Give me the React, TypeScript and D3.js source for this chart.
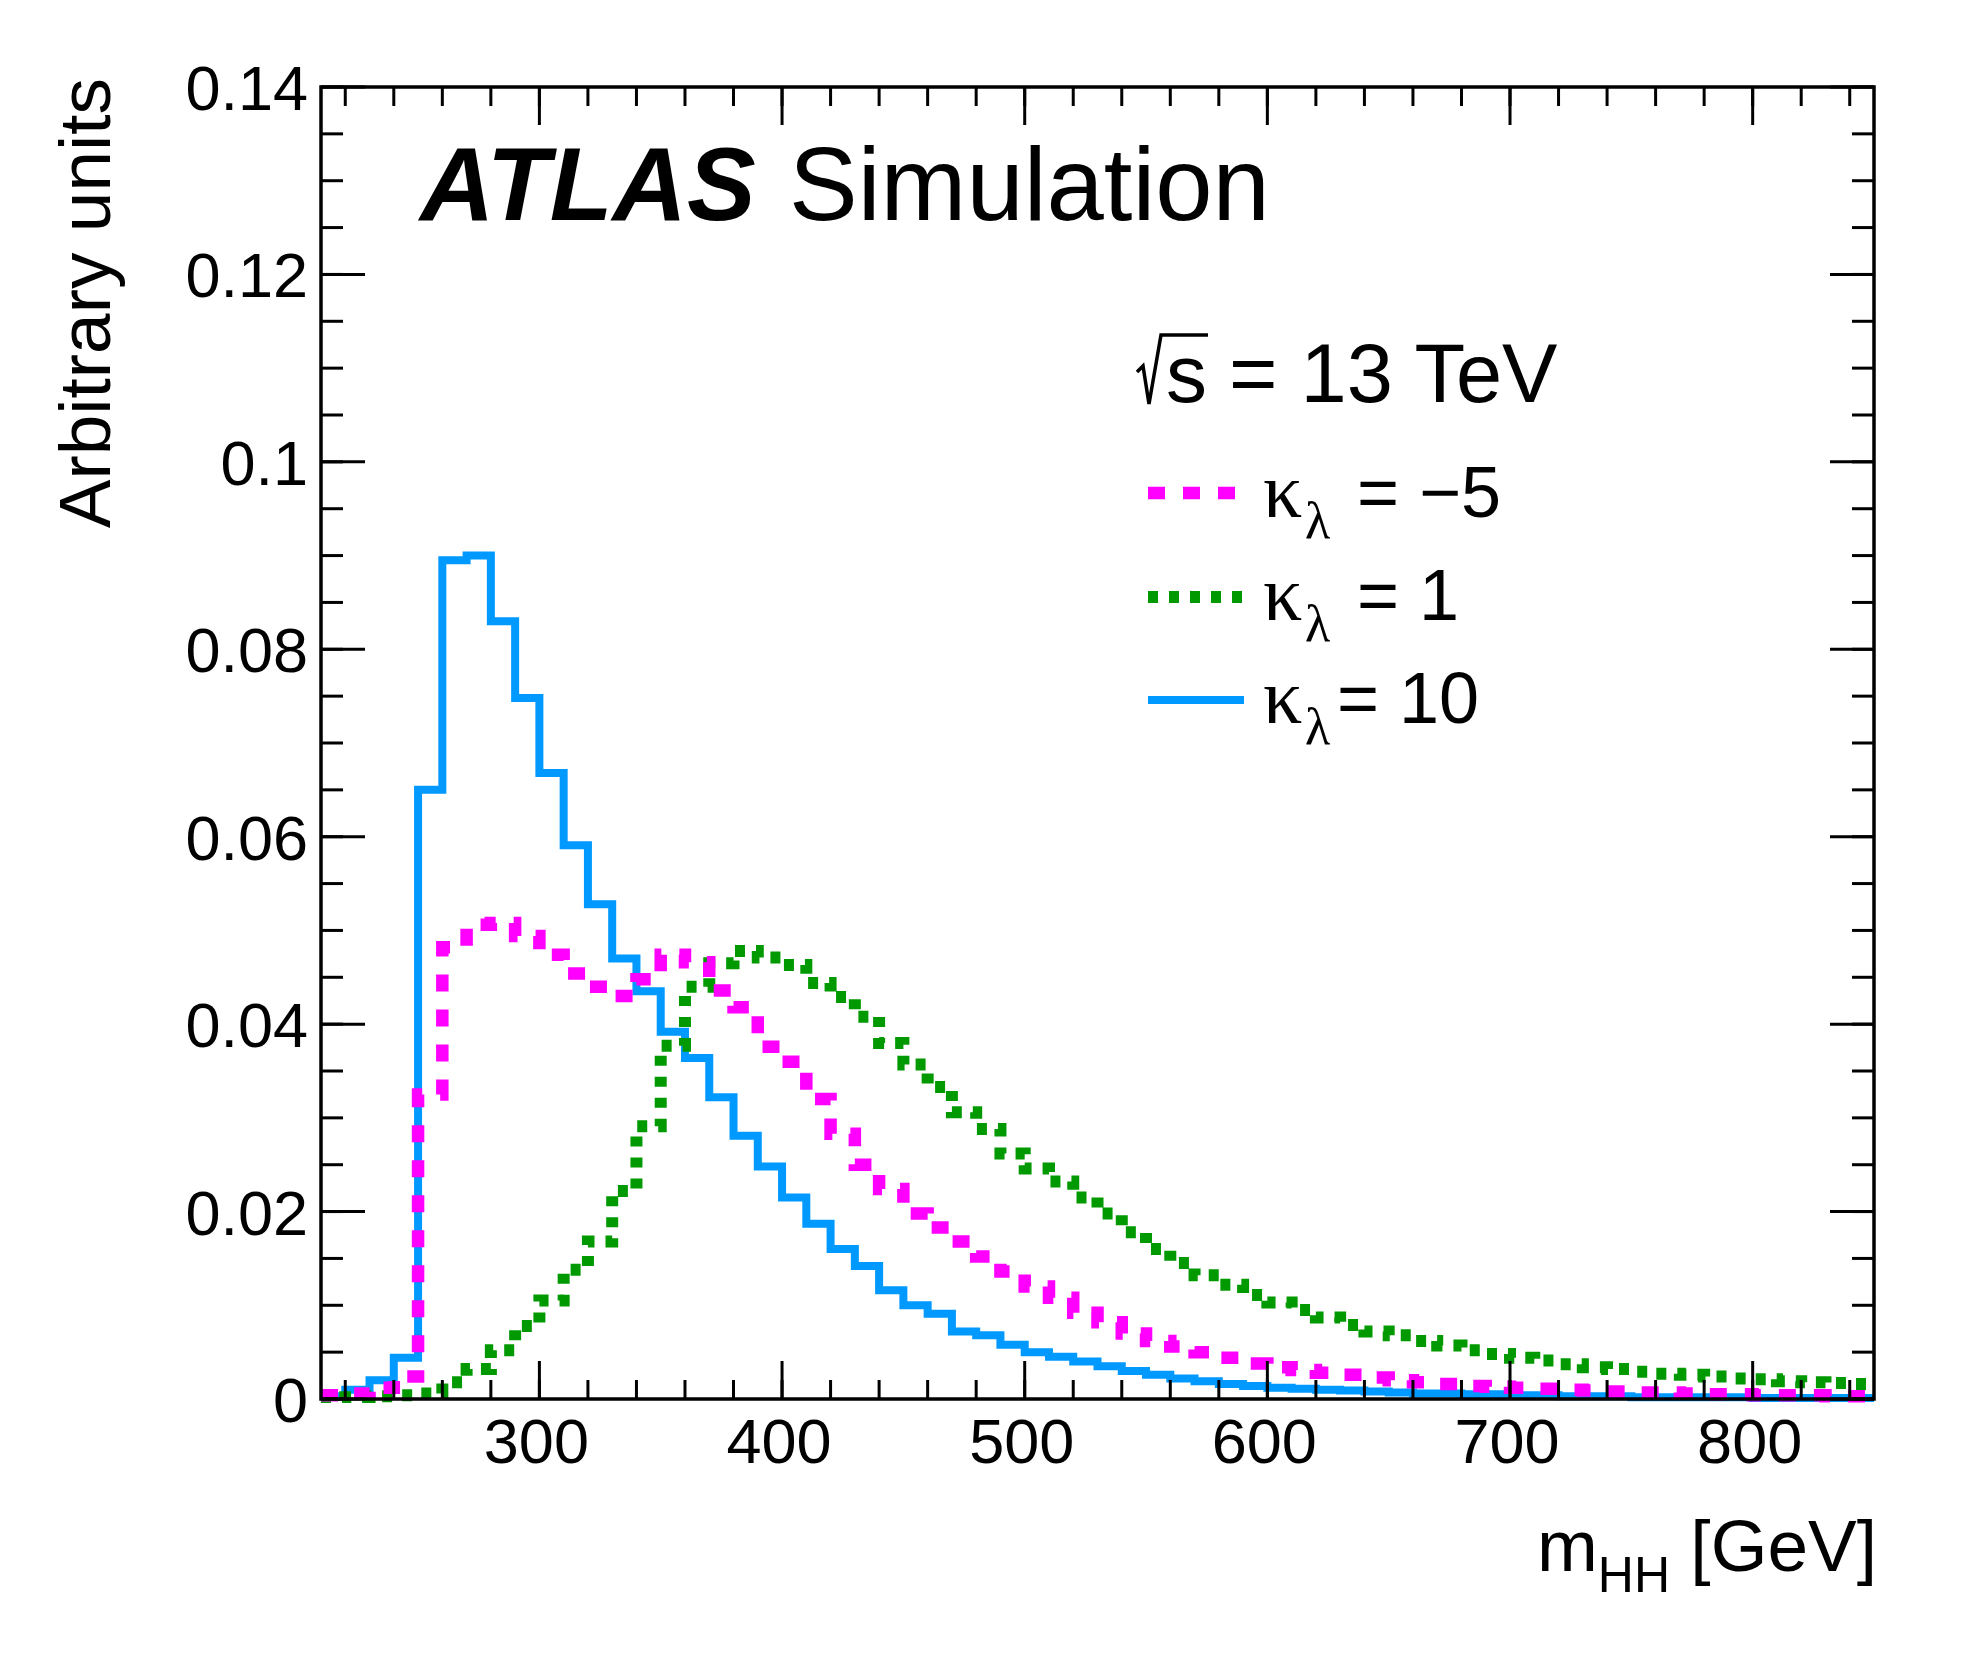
import React, { useEffect } from "react";
import * as d3 from "d3";

// bin lower edges, 10 GeV wide
const binEdges: number[] = d3.range(210, 850, 10);

// kappa_lambda = 10
const kl10: number[] = [
  0.0003, 0.001, 0.002, 0.0044, 0.065, 0.0895, 0.09, 0.083, 0.0748, 0.0668,
  0.0591, 0.0528, 0.047, 0.0435, 0.0392, 0.0364, 0.0322, 0.0281, 0.0248, 0.0215,
  0.0187, 0.016, 0.0142, 0.0116, 0.01, 0.0091, 0.0072, 0.0068, 0.0058, 0.005,
  0.0045, 0.004, 0.0035, 0.003, 0.0026, 0.0022, 0.0019, 0.0016, 0.0014, 0.0012,
  0.0011, 0.001, 0.0009, 0.0008, 0.0007, 0.0006, 0.0006, 0.0005, 0.0005, 0.0004,
  0.0004, 0.0003, 0.0003, 0.0003, 0.0002, 0.0002, 0.0002, 0.0002, 0.0002, 0.0001,
  0.0001, 0.0001, 0.0001, 0.0001,
];

// kappa_lambda = 1
const kl1: number[] = [
  0.0001, 0.0002, 0.0003, 0.0004, 0.0006, 0.0018, 0.0032, 0.0052, 0.0078, 0.0105,
  0.0138, 0.0168, 0.0222, 0.0291, 0.0377, 0.044, 0.0465, 0.0478, 0.0471, 0.0463,
  0.0444, 0.0429, 0.0408, 0.038, 0.0357, 0.0333, 0.0306, 0.0288, 0.0262, 0.0246,
  0.0232, 0.0215, 0.0198, 0.0178, 0.016, 0.0145, 0.0132, 0.0122, 0.0111, 0.0103,
  0.0095, 0.0087, 0.0079, 0.0072, 0.0068, 0.0062, 0.0057, 0.0052, 0.0048, 0.0044,
  0.0041, 0.0037, 0.0034, 0.0032, 0.0029, 0.0027, 0.0026, 0.0024, 0.0022, 0.0021,
  0.0019, 0.0018, 0.0017, 0.0016,
];

// kappa_lambda = -5
const klm5: number[] = [
  0.0004, 0.0006, 0.0012, 0.0024, 0.0325, 0.0482, 0.0506, 0.0508, 0.0494, 0.0474,
  0.0454, 0.044, 0.043, 0.0448, 0.0474, 0.0466, 0.0436, 0.0418, 0.0376, 0.036,
  0.032, 0.0283, 0.025, 0.0224, 0.0198, 0.0183, 0.0168, 0.0152, 0.0136, 0.012,
  0.0108, 0.0092, 0.0082, 0.007, 0.0062, 0.0056, 0.005, 0.0044, 0.0038, 0.0034,
  0.0031, 0.0028, 0.0026, 0.0023, 0.002, 0.0018, 0.0016, 0.0014, 0.0013, 0.0012,
  0.0011, 0.001, 0.0009, 0.0008, 0.0007, 0.0007, 0.0006, 0.0005, 0.0005, 0.0004,
  0.0004, 0.0004, 0.0003, 0.0003,
];

const legendValues: string[] = ["= \u22125", "= 1", "= 10"];

const W = 1980;
const H = 1671;
const left = 321;
const right = 1874;
const top = 87;
const bottom = 1399;

const sans = "'Liberation Sans', Arial, Helvetica, sans-serif";
const serif = "'Liberation Serif', 'Times New Roman', serif";

const x = d3.scaleLinear().domain([210, 850]).range([left, right]);
const y = d3.scaleLinear().domain([0, 0.14]).range([bottom, top]);

const stepLine = d3
  .line<[number, number]>()
  .x((d) => x(d[0]))
  .y((d) => y(d[1]))
  .curve(d3.curveStepAfter);

const histPath = (vals: number[]) => {
  const pts: [number, number][] = vals.map((v, i) => [binEdges[i], v]);
  pts.push([850, vals[vals.length - 1]]);
  return stepLine(pts) || "";
};

const series = [
  { values: kl10, color: "#0099ff", width: 8, dash: "none" },
  { values: kl1, color: "#009900", width: 12, dash: "10 11" },
  { values: klm5, color: "#ff00ff", width: 12.5, dash: "17 18" },
];

const legendStyles = [
  { color: "#ff00ff", width: 12.5, dash: "17 18" },
  { color: "#009900", width: 12, dash: "10 11" },
  { color: "#0099ff", width: 8, dash: "none" },
];

const App: React.FC = () => {
  useEffect(() => {
    document.body.style.margin = "0";
  }, []);

  const yMajor = y.ticks(7);
  const yMinor = d3.range(0, 0.1401, 0.005);
  const xMajor = x.ticks(6);
  const xMinor = d3.range(220, 851, 20);
  const fmtY = (d: number) => String(+d.toFixed(2));

  const legY = [493, 597, 700];
  const legBase = [517, 620, 723];
  const legTextX = [1357, 1357, 1337];

  return (
    <svg width={W} height={H} style={{ display: "block", background: "#fff" }}>
      <defs>
        <clipPath id="plot">
          <rect x={left} y={top - 10} width={right - left + 8} height={bottom - top + 14} />
        </clipPath>
      </defs>

      {/* histograms */}
      <g clipPath="url(#plot)" fill="none">
        {series.map((s, i) => (
          <path
            key={i}
            d={histPath(s.values)}
            stroke={s.color}
            strokeWidth={s.width}
            strokeDasharray={s.dash}
            strokeLinejoin="miter"
            strokeLinecap="butt"
          />
        ))}
      </g>

      {/* ticks */}
      <g stroke="#000" strokeWidth={3}>
        {yMinor.map((v, i) => (
          <g key={"ym" + i}>
            <line x1={left} x2={left + 22} y1={y(v)} y2={y(v)} />
            <line x1={right} x2={right - 22} y1={y(v)} y2={y(v)} />
          </g>
        ))}
        {yMajor.map((v, i) => (
          <g key={"yM" + i}>
            <line x1={left} x2={left + 44} y1={y(v)} y2={y(v)} />
            <line x1={right} x2={right - 44} y1={y(v)} y2={y(v)} />
          </g>
        ))}
        {xMinor.map((v, i) => (
          <g key={"xm" + i}>
            <line x1={x(v)} x2={x(v)} y1={bottom} y2={bottom - 19} />
            <line x1={x(v)} x2={x(v)} y1={top} y2={top + 19} />
          </g>
        ))}
        {xMajor.map((v, i) => (
          <g key={"xM" + i}>
            <line x1={x(v)} x2={x(v)} y1={bottom} y2={bottom - 38} />
            <line x1={x(v)} x2={x(v)} y1={top} y2={top + 38} />
          </g>
        ))}
      </g>

      {/* frame */}
      <rect
        x={left}
        y={top}
        width={right - left}
        height={bottom - top}
        fill="none"
        stroke="#000"
        strokeWidth={3.5}
      />

      {/* tick labels */}
      <g fontFamily={sans} fontSize={63} fill="#000">
        {yMajor.map((v, i) => (
          <text key={"yl" + i} x={308} y={y(v) + 23} textAnchor="end">
            {fmtY(v)}
          </text>
        ))}
        {xMajor.map((v, i) => (
          <text key={"xl" + i} x={x(v) - 3} y={1463} textAnchor="middle">
            {v}
          </text>
        ))}
      </g>

      {/* axis titles */}
      <text
        fontFamily={sans}
        fontSize={73}
        textAnchor="end"
        transform="translate(110,78) rotate(-90)"
      >
        Arbitrary units
      </text>
      <text fontFamily={sans} fontSize={73} textAnchor="end" x={1877} y={1571}>
        m
        <tspan fontSize={50} dy={21}>
          HH
        </tspan>
        <tspan dy={-21}> [GeV]</tspan>
      </text>

      {/* ATLAS label */}
      <text fontFamily={sans} fontSize={103} x={420} y={220}>
        <tspan fontWeight="bold" fontStyle="italic">
          ATLAS
        </tspan>
        <tspan x={789}>Simulation</tspan>
      </text>

      {/* sqrt(s) */}
      <path d="M1137,372 L1143,366 L1149,404 L1161,335 L1208,335" fill="none" stroke="#000" strokeWidth={3.5} />
      <text fontFamily={sans} fontSize={82} x={1166} y={402}>
        s
      </text>
      <text fontFamily={sans} fontSize={83} x={1229} y={402}>
        = 13 TeV
      </text>

      {/* legend */}
      {legendStyles.map((s, i) => (
        <g key={"leg" + i}>
          <line
            x1={1148}
            x2={1244}
            y1={legY[i]}
            y2={legY[i]}
            stroke={s.color}
            strokeWidth={s.width}
            strokeDasharray={s.dash}
          />
          <text fontFamily={serif} fontSize={78} x={1263} y={legBase[i]}>
            {"\u03ba"}
          </text>
          <text fontFamily={serif} fontSize={52} x={1305} y={legBase[i] + 21}>
            {"\u03bb"}
          </text>
          <text fontFamily={sans} fontSize={72} x={legTextX[i]} y={legBase[i]}>
            {legendValues[i]}
          </text>
        </g>
      ))}
    </svg>
  );
};

export default App;
